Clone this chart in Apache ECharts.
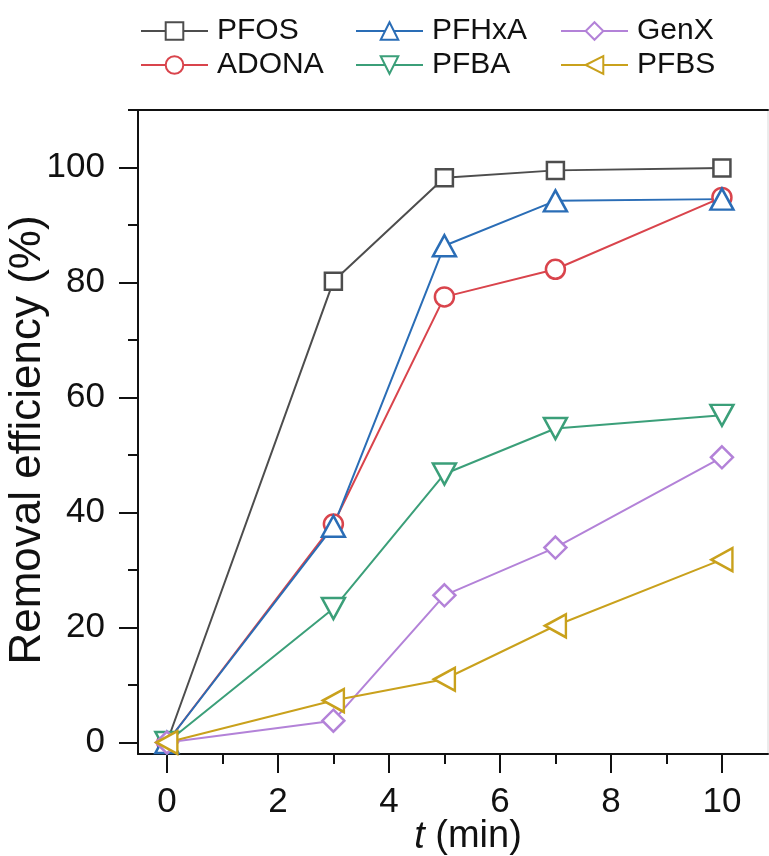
<!DOCTYPE html>
<html>
<head>
<meta charset="utf-8">
<script src="https://cdn.jsdelivr.net/npm/echarts@6/dist/echarts.min.js"></script>
<style>
html,body{margin:0;padding:0;background:#fff;}
#chart{width:769px;height:856px;}
</style>
</head>
<body>
<div id="chart"></div>
<script>
// ---- data ----
const times = [0, 3, 5, 7, 10];
const seriesNames = ['PFOS', 'ADONA', 'PFHxA', 'PFBA', 'GenX', 'PFBS'];
const pfos  = [0, 80.2, 98.2, 99.5, 99.9];
const adona = [0, 38.0, 77.5, 82.3, 94.8];
const pfhxa = [0, 37.6, 86.4, 94.2, 94.5];
const pfba  = [0, 23.3, 46.7, 54.6, 56.9];
const genx  = [0, 3.8, 25.6, 33.9, 49.6];
const pfbs  = [0, 7.3, 11.0, 20.3, 31.8];
const xTickLabels = [0, 2, 4, 6, 8, 10];
const xMinorTicks = [1, 3, 5, 7, 9];
const yTickLabels = [0, 20, 40, 60, 80, 100];
const yMinorTicks = [10, 30, 50, 70, 90, 110];

const FONT = "'Liberation Sans', Arial, sans-serif";
const styles = {
  PFOS:  {color: '#4d4d4d', symbol: 'rect',     size: 17, rotate: 0},
  ADONA: {color: '#d9444c', symbol: 'circle',   size: 19, rotate: 0},
  PFHxA: {color: '#2a6db6', symbol: 'triangle', size: [23, 21], rotate: 0},
  PFBA:  {color: '#3b9f79', symbol: 'triangle', size: [23, 21], rotate: 180},
  GenX:  {color: '#b382d8', symbol: 'diamond',  size: 22, rotate: 0},
  PFBS:  {color: '#c9a11c', symbol: 'triangle', size: [23, 21], rotate: 90}
};
const values = {PFOS: pfos, ADONA: adona, PFHxA: pfhxa, PFBA: pfba, GenX: genx, PFBS: pfbs};

const chart = echarts.init(document.getElementById('chart'));

const series = seriesNames.map(name => {
  const s = styles[name];
  return {
    name: name,
    type: 'line',
    xAxisIndex: 0,
    yAxisIndex: 0,
    data: times.map((t, i) => [t, values[name][i]]),
    symbol: s.symbol,
    symbolSize: s.size,
    symbolRotate: s.rotate,
    showAllSymbol: true,
    color: s.color,
    lineStyle: {color: s.color, width: 2},
    itemStyle: {color: '#fff', borderColor: s.color, borderWidth: 2.5},
    emphasis: {disabled: true},
    animation: false
  };
});

function legend(names, left) {
  return {
    data: names,
    orient: 'vertical',
    left: left,
    top: 11,
    itemWidth: 67,
    itemHeight: 22,
    itemGap: 4,
    selectedMode: false,
    textStyle: {fontFamily: FONT, fontSize: 30, color: '#111', padding: [0, 0, 0, 4]}
  };
}

const axisLbl = {fontFamily: FONT, fontSize: 35, color: '#111'};
const lineBlack = {show: true, onZero: false, lineStyle: {color: '#111', width: 2}};

const option = {
  backgroundColor: '#fff',
  animation: false,
  grid: {left: 138, right: 1, top: 110, bottom: 102, outerBoundsMode: 'none', containLabel: false,
         show: true, borderColor: '#d8d8d8', borderWidth: 1},
  legend: [
    legend(['PFOS', 'ADONA'], 135),
    legend(['PFHxA', 'PFBA'], 350),
    legend(['GenX', 'PFBS'], 555)
  ],
  xAxis: [
    {
      type: 'value', position: 'bottom', min: -0.52, max: 10.83,
      axisLine: lineBlack,
      axisTick: {show: true, inside: false, length: 19, customValues: xTickLabels, lineStyle: {color: '#111', width: 2}},
      axisLabel: {show: true, customValues: xTickLabels, margin: 31, ...axisLbl},
      splitLine: {show: false},
      name: '{i|t} (min)',
      nameLocation: 'middle',
      nameGap: 64,
      nameMoveOverlap: false,
      nameTextStyle: {fontFamily: FONT, fontSize: 38, color: '#111', padding: [0, 0, 0, 30],
        rich: {i: {fontFamily: FONT, fontSize: 38, fontStyle: 'italic', color: '#111'}}}
    },
    {
      type: 'value', position: 'bottom', min: -0.52, max: 10.83,
      axisLine: {show: false, onZero: false},
      axisTick: {show: true, inside: false, length: 10, customValues: xMinorTicks, lineStyle: {color: '#111', width: 2}},
      axisLabel: {show: false},
      splitLine: {show: false}
    },
    {
      type: 'value', position: 'top', min: -0.52, max: 10.83,
      axisLine: lineBlack,
      axisTick: {show: false}, axisLabel: {show: false}, splitLine: {show: false}
    }
  ],
  yAxis: [
    {
      type: 'value', position: 'left', min: -2, max: 110,
      axisLine: lineBlack,
      axisTick: {show: true, inside: false, length: 19, customValues: yTickLabels, lineStyle: {color: '#111', width: 2}},
      axisLabel: {show: true, customValues: yTickLabels, margin: 33, ...axisLbl},
      splitLine: {show: false},
      name: 'Removal efficiency (%)',
      nameLocation: 'middle',
      nameGap: 88,
      nameMoveOverlap: false,
      nameTextStyle: {fontFamily: FONT, fontSize: 44, color: '#111', padding: [0, 16, 0, 0]}
    },
    {
      type: 'value', position: 'left', min: -2, max: 110,
      axisLine: {show: false, onZero: false},
      axisTick: {show: true, inside: false, length: 10, customValues: yMinorTicks, lineStyle: {color: '#111', width: 2}},
      axisLabel: {show: false},
      splitLine: {show: false}
    }
  ],
  series: series
};
chart.setOption(option);
</script>
</body>
</html>
